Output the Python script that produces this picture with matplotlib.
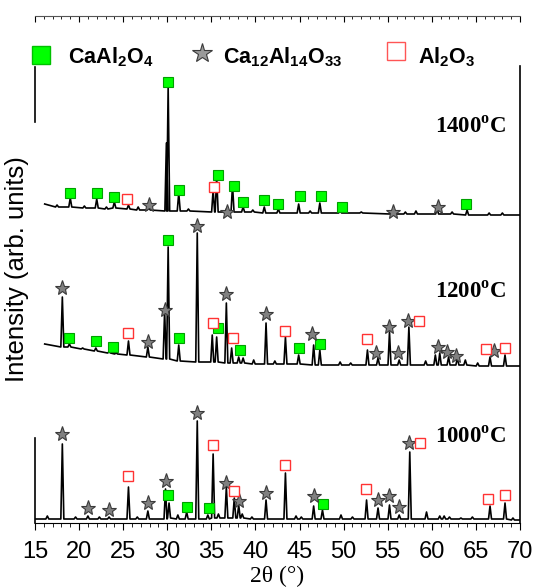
import matplotlib.pyplot as plt
from matplotlib.ticker import MultipleLocator

plt.rcParams['mathtext.fontset'] = 'custom'
plt.rcParams['mathtext.rm'] = 'Liberation Serif:bold'
plt.rcParams['mathtext.bf'] = 'Liberation Sans:bold'

# --- 1000 C trace: peak position, peak top, baseline under peak
p1000_pos = [16.4, 18.1, 19.6, 21.0, 22.3, 23.4, 25.6, 26.6, 27.8, 29.8, 30.2, 31.2,
             32.2, 33.4, 34.6, 35.2, 35.8, 36.7, 37.6, 38.1, 38.5, 39.6, 41.2, 43.4,
             44.6, 45.2, 46.6, 47.6, 49.7, 51.0, 52.6, 53.9, 55.2, 56.3, 57.5, 59.4,
             60.9, 61.4, 62.0, 63.3, 64.6, 66.6, 68.3, 69.2]
p1000_top = [7, 79, 6, 7, 6, 6, 36, 6, 12, 34, 20, 8,
             11, 102, 8, 69, 9, 36, 25, 18, 9, 6, 23, 50,
             7, 6, 17, 13, 8, 6, 23, 15, 18, 8, 71, 11,
             7, 7, 6, 5, 6, 17, 20, 5]
p1000_foot = [4, 4, 4, 4, 4, 4, 4, 4, 4, 4, 5, 4,
              4, 4, 4, 5, 5, 5, 5, 5, 5, 4, 4, 4,
              4, 4, 4, 4, 4, 4, 4, 4, 4, 4, 4, 4,
              4, 4, 4, 4, 4, 4, 4, 3]
t1000_ends = [(15.0, 4), (70.0, 3)]

# --- 1200 C trace
p1200_pos = [18.1, 18.9, 20.4, 21.9, 23.4, 24.2, 25.6, 27.8, 29.7, 30.1, 31.3, 33.4,
             35.1, 35.6, 36.7, 37.3, 38.1, 38.6, 39.8, 41.2, 42.2, 43.4, 44.9, 46.6,
             47.3, 49.6, 50.8, 52.7, 53.9, 55.2, 56.3, 57.4, 59.3, 60.4, 60.9, 61.9,
             62.9, 63.8, 65.2, 66.6, 68.3]
p1200_top = [226, 179, 175, 175, 171, 170, 182, 176, 212, 276, 178, 290,
             188, 186, 220, 175, 166, 165, 163, 200, 162, 186, 168, 178,
             173, 161, 160, 173, 165, 191, 163, 196, 162, 168, 170, 166,
             165, 163, 160, 166, 168]
p1200_foot = [176, 176, 174, 172, 170, 169, 168, 166, 164, 164, 162, 161,
              161, 161, 160, 160, 160, 160, 159, 159, 159, 159, 159, 158,
              158, 158, 158, 158, 158, 158, 158, 158, 158, 158, 158, 158,
              158, 158, 157, 157, 157]
t1200_ends = [(16.1, 179), (70.0, 157)]

# --- 1400 C trace
p1400_pos = [17.5, 19.0, 20.6, 22.0, 23.1, 24.0, 25.6, 26.7, 27.9, 29.9, 30.1, 31.3,
             32.4, 35.2, 35.6, 36.7, 37.4, 38.6, 39.7, 41.0, 42.6, 44.9, 46.2, 47.3,
             49.6, 52.0, 55.4, 57.0, 58.2, 60.6, 62.3, 64.0, 66.5, 68.0]
p1400_top = [318, 325, 317, 324, 316, 321, 318, 316, 315, 380, 436, 330,
             314, 333, 346, 314, 338, 316, 313, 316, 314, 319, 312, 320,
             314, 311, 311, 311, 312, 314, 311, 313, 310, 310]
p1400_foot = [316, 316, 315, 315, 314, 315, 314, 313, 313, 312, 312, 312,
              312, 311, 311, 311, 311, 311, 311, 310, 310, 310, 310, 310,
              310, 310, 309, 309, 309, 309, 309, 308, 308, 308]
t1400_ends = [(16.1, 319), (70.0, 308)]

# --- phase markers (2theta, height)
caal2o4_x = [30.1, 32.2, 34.7, 47.7,
             18.9, 21.9, 23.8, 30.1, 31.3, 35.7, 38.3, 44.9, 47.3,
             19.0, 22.0, 24.0, 30.1, 31.3, 35.7, 37.6, 38.6, 41.0, 42.6, 45.0, 47.4, 49.8, 63.9]
caal2o4_y = [28, 16, 15, 19,
             185, 182, 176, 283, 185, 195, 173, 175, 179,
             330, 330, 326, 441, 333, 348, 337, 321, 323, 319, 327, 327, 316, 319]

c12a7_x = [18.1, 21.0, 23.4, 27.8, 29.8, 33.4, 36.7, 38.1, 41.2, 46.6, 53.9, 55.2, 56.3, 57.4,
           18.1, 27.8, 29.7, 33.4, 36.7, 41.2, 46.4, 53.7, 55.1, 56.2, 57.3, 60.7, 61.7, 62.7, 67.0,
           27.9, 36.8, 55.6, 60.7]
c12a7_y = [89, 15, 13, 20, 42, 110, 40, 22, 30, 27, 23, 27, 16, 80,
           235, 181, 213, 297, 229, 209, 189, 170, 196, 170, 202, 176, 171, 167, 172,
           318, 311, 311, 316]

al2o3_x = [25.6, 35.2, 37.6, 43.4, 52.5, 58.7, 66.4, 68.3,
           25.6, 35.2, 37.5, 43.4, 52.6, 58.5, 66.1, 68.3,
           25.4, 35.3]
al2o3_y = [47, 78, 32, 58, 34, 80, 24, 28,
           190, 200, 185, 192, 184, 202, 174, 175,
           324, 336]

temps = ['1400', '1200', '1000']
temp_y = [396, 231, 86]


def build_trace(pos, top, foot, ends, w=0.17):
    xs = [ends[0][0]]
    ys = [ends[0][1]]
    for p, t, f in zip(pos, top, foot):
        xs += [p - w, p, p + w]
        ys += [f, t, f]
    xs.append(ends[1][0])
    ys.append(ends[1][1])
    return xs, ys


fig = plt.figure(figsize=(5.37, 5.88), dpi=100)
ax = fig.add_axes([35 / 537, 65 / 588, 485 / 537, 507 / 588])

for pos, top, foot, ends in [(p1000_pos, p1000_top, p1000_foot, t1000_ends),
                             (p1200_pos, p1200_top, p1200_foot, t1200_ends),
                             (p1400_pos, p1400_top, p1400_foot, t1400_ends)]:
    xs, ys = build_trace(pos, top, foot, ends)
    ax.plot(xs, ys, color='black', lw=1.2, zorder=2)

ax.plot(caal2o4_x, caal2o4_y, ls='none', marker='s', ms=7, mfc='#00ff00',
        mec='#00a000', mew=0.8, zorder=3)
ax.plot(c12a7_x, c12a7_y, ls='none', marker='*', ms=11, mfc='#808080',
        mec='#3a3a3a', mew=0.8, zorder=3)
ax.plot(al2o3_x, al2o3_y, ls='none', marker='s', ms=7, mfc='white',
        mec='#ff3333', mew=1.0, zorder=3)

for t, y in zip(temps, temp_y):
    ax.text(68.4, y, t + r'$^{\mathrm{o}}$C', ha='right', va='center',
            fontfamily='Liberation Serif', fontweight='bold', fontsize=16.5)

# legend row drawn inside the top band
leg_y = 468
ax.plot([15.7], [leg_y], marker='s', ms=12.5, mfc='#00ff00', mec='#00c000',
        ls='none', clip_on=False)
ax.text(18.7, leg_y - 8, r'CaAl$_\mathbf{2}$O$_\mathbf{4}$', fontfamily='Liberation Sans',
        fontweight='bold', fontsize=15.5, va='baseline')
ax.plot([33.9], [leg_y + 2], marker='*', ms=15, mfc='#9a9a9a', mec='#3a3a3a',
        mew=0.8, ls='none')
ax.text(36.3, leg_y - 8, r'Ca$_\mathbf{12}$Al$_\mathbf{14}$O$_\mathbf{33}$',
        fontfamily='Liberation Sans', fontweight='bold', fontsize=15.5, va='baseline')
ax.plot([55.9], [leg_y + 4], marker='s', ms=12.5, mfc='white', mec='#ff5555',
        mew=1.0, ls='none')
ax.text(58.4, leg_y - 8, r'Al$_\mathbf{2}$O$_\mathbf{3}$', fontfamily='Liberation Sans',
        fontweight='bold', fontsize=15.5, va='baseline')

ax.set_xlim(15, 70)
ax.set_ylim(0, 507)
ax.xaxis.set_major_locator(MultipleLocator(5))
ax.xaxis.set_minor_locator(MultipleLocator(1))
ax.set_yticks([])
ax.tick_params(axis='x', which='both', top=True, bottom=True, labeltop=False)
ax.tick_params(axis='x', which='major', direction='out', length=5, width=0.8,
               labelsize=17, pad=8)
ax.tick_params(axis='x', which='minor', direction='out', length=3, width=0.6)
for lab in ax.get_xticklabels():
    lab.set_fontfamily('Liberation Sans')

# top ticks point inward
for tick in ax.xaxis.get_major_ticks():
    tick.tick2line.set_marker(3)
    tick.tick2line.set_markersize(4)
for tick in ax.xaxis.get_minor_ticks():
    tick.tick2line.set_marker(3)
    tick.tick2line.set_markersize(2)

ax.spines['top'].set_color('#555555')
ax.spines['top'].set_linewidth(0.8)
ax.spines['right'].set_bounds(0, 457)
ax.spines['right'].set_linewidth(1.2)
ax.spines['left'].set_bounds(0, 85)
ax.spines['left'].set_linewidth(1.2)
ax.plot([15, 15], [401, 456], color='black', lw=1.2, clip_on=False)

ax.set_xlabel('2θ (°)', fontfamily='Liberation Serif', fontsize=17, labelpad=2)
ax.set_ylabel('Intensity (arb. units)', fontfamily='Liberation Sans', fontsize=18.5,
              labelpad=4)

fig.savefig('out.png', dpi=100)
